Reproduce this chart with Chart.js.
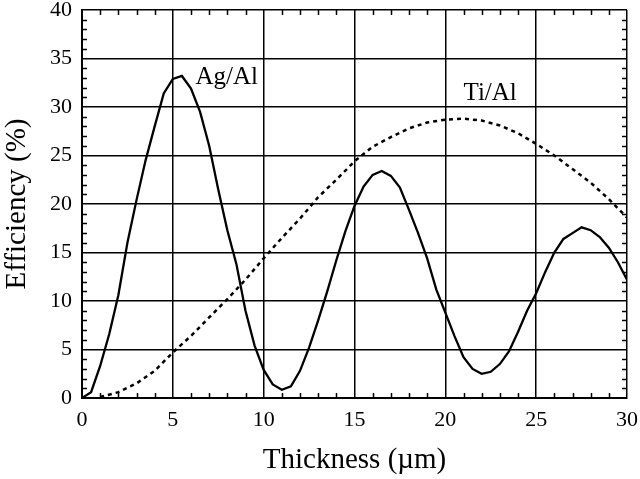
<!DOCTYPE html>
<html>
<head>
<meta charset="utf-8">
<title>Efficiency vs Thickness</title>
<script src="https://cdn.jsdelivr.net/npm/chart.js@4/dist/chart.umd.min.js"></script>
<style>
  html, body { margin: 0; padding: 0; background: #fff; }
  #wrap { width: 640px; height: 479px; }
</style>
</head>
<body>
<div id="wrap"><canvas id="chart" width="640" height="479"></canvas></div>
<script>
/* ---- data ---- */
const agThickness = [
  0, 0.5, 1, 1.5, 2, 2.5, 3, 3.5, 4, 4.5, 5, 5.5, 6, 6.5, 7, 7.5, 8, 8.5, 9, 9.5,
  10, 10.5, 11, 11.5, 12, 12.5, 13, 13.5, 14, 14.5, 15, 15.5, 16, 16.5, 17, 17.5,
  18, 18.5, 19, 19.5, 20, 20.5, 21, 21.5, 22, 22.5, 23, 23.5, 24, 24.5, 25, 25.5,
  26, 26.5, 27, 27.5, 28, 28.5, 29, 29.5, 30
];
const agEfficiency = [
  0, 0.6, 3.3, 6.6, 10.6, 16.0, 20.4, 24.5, 28.0, 31.4, 32.9, 33.2, 31.9, 29.5, 26.0, 21.5, 17.3, 13.8, 9.0, 5.4,
  2.9, 1.4, 0.85, 1.2, 2.8, 5.2, 8.0, 11.0, 14.2, 17.2, 19.8, 21.8, 23.0, 23.4, 22.9, 21.7,
  19.4, 17.0, 14.4, 11.2, 8.8, 6.4, 4.2, 3.0, 2.5, 2.7, 3.5, 4.8, 6.8, 9.0, 10.8, 13.0,
  15.0, 16.4, 17.0, 17.6, 17.3, 16.6, 15.5, 14.0, 12.2
];

const tiThickness = [
  1, 2, 3, 4, 5, 6, 7, 8, 9, 10, 11, 12, 13, 14, 15,
  16, 17, 18, 19, 20, 21, 22, 23, 24, 25, 26, 27, 28, 29, 30
];
const tiEfficiency = [
  0.1, 0.6, 1.5, 2.8, 4.7, 6.4, 8.3, 10.2, 12.2, 14.4, 16.5, 18.5, 20.7, 22.5, 24.4,
  25.9, 26.9, 27.8, 28.4, 28.7, 28.8, 28.6, 28.1, 27.3, 26.2, 25.0, 23.6, 22.2, 20.5, 18.6
];

const seriesNames = ['Ag/Al', 'Ti/Al'];
const xTitle = 'Thickness (\u00b5m)';
const yTitle = 'Efficiency (%)';

/* in-plot series labels: [text, thickness, efficiency] */
const seriesLabels = [
  ['Ag/Al', 6.25, 32.4],
  ['Ti/Al', 21.0, 30.7]
];

const SERIF = '"Liberation Serif", "DejaVu Serif", serif';

function toPoints(xs, ys) {
  return xs.map((x, i) => ({ x: x, y: ys[i] }));
}

// minor ticks (every 1 unit) pointing inwards on all four sides
const minorTicks = {
  id: 'minorTicks',
  afterDraw(chart) {
    const { ctx, chartArea: a, scales: { x, y } } = chart;
    const len = 5;
    ctx.save();
    ctx.strokeStyle = '#000';
    ctx.lineWidth = 1.5;
    ctx.beginPath();
    for (let v = x.min; v <= x.max; v++) {
      if (v % 5 === 0) continue;
      const px = Math.round(x.getPixelForValue(v)) + 0.5;
      ctx.moveTo(px, a.bottom); ctx.lineTo(px, a.bottom - len);
      ctx.moveTo(px, a.top); ctx.lineTo(px, a.top + len);
    }
    for (let v = y.min; v <= y.max; v++) {
      if (v % 5 === 0) continue;
      const py = Math.round(y.getPixelForValue(v)) + 0.5;
      ctx.moveTo(a.left, py); ctx.lineTo(a.left + len, py);
      ctx.moveTo(a.right, py); ctx.lineTo(a.right - len, py);
    }
    ctx.stroke();

    // series labels
    ctx.fillStyle = '#000';
    ctx.font = '25px ' + SERIF;
    ctx.textAlign = 'left';
    ctx.textBaseline = 'alphabetic';
    seriesLabels.forEach(([t, lx, ly]) => {
      ctx.fillText(t, x.getPixelForValue(lx), y.getPixelForValue(ly));
    });
    ctx.restore();
  }
};

new Chart(document.getElementById('chart').getContext('2d'), {
  type: 'line',
  data: {
    datasets: [
      {
        label: seriesNames[0],
        data: toPoints(agThickness, agEfficiency),
        borderColor: '#000',
        borderWidth: 2.3,
        pointRadius: 0,
        tension: 0,
        fill: false
      },
      {
        label: seriesNames[1],
        data: toPoints(tiThickness, tiEfficiency),
        borderColor: '#000',
        borderWidth: 2.5,
        borderDash: [4, 4],
        pointRadius: 0,
        tension: 0,
        fill: false
      }
    ]
  },
  options: {
    responsive: false,
    animation: false,
    events: [],
    layout: { padding: { top: 10, right: 13, left: 0, bottom: 0 } },
    plugins: {
      legend: { display: false },
      tooltip: { enabled: false }
    },
    scales: {
      x: {
        type: 'linear',
        min: 0, max: 30,
        ticks: {
          stepSize: 5,
          color: '#000',
          padding: 9,
          maxRotation: 0,
          font: { family: SERIF, size: 22 }
        },
        grid: { color: '#000', lineWidth: 1.5, drawTicks: false },
        border: { color: '#000', width: 2 },
        title: {
          display: true,
          text: xTitle,
          color: '#000',
          padding: { top: 0, bottom: 1 },
          font: { family: SERIF, size: 29 }
        },
        afterFit(scale) {
          scale.height = 81;
          scale.paddingLeft = 0;
          scale.paddingRight = 0;
        }
      },
      y: {
        type: 'linear',
        min: 0, max: 40,
        ticks: {
          stepSize: 5,
          color: '#000',
          padding: 10,
          font: { family: SERIF, size: 22 }
        },
        grid: { color: '#000', lineWidth: 1.5, drawTicks: false },
        border: { color: '#000', width: 2 },
        title: {
          display: true,
          text: yTitle,
          color: '#000',
          padding: { top: 0, bottom: 0 },
          font: { family: SERIF, size: 29 }
        },
        afterFit(scale) {
          scale.width = 82;
          scale.paddingTop = 0;
          scale.paddingBottom = 0;
        }
      }
    }
  },
  plugins: [minorTicks]
});
</script>
</body>
</html>
